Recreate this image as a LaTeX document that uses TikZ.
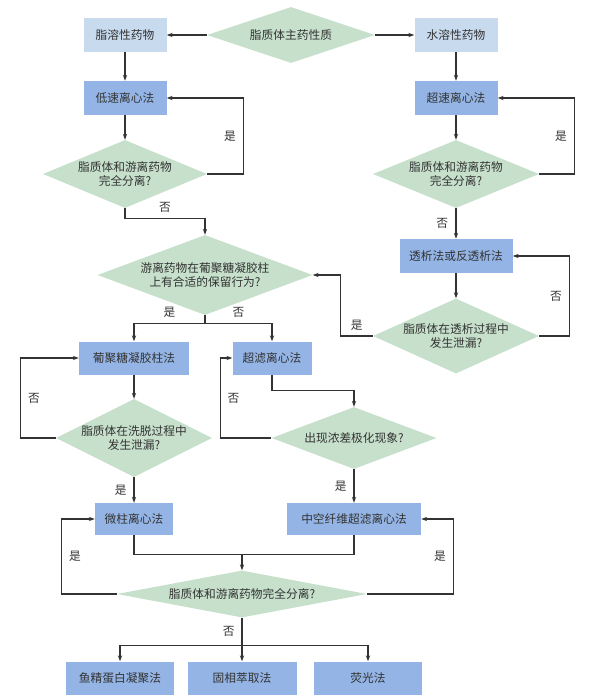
\documentclass[tikz,border=0pt]{standalone}
\usepackage{fontspec}
\usepackage{tikz}
\usetikzlibrary{shapes.geometric,arrows.meta,calc}
\newfontfamily\cjk{Noto Sans CJK SC}
\definecolor{paleblue}{HTML}{C8DAEE}
\definecolor{boxblue}{HTML}{93B4E4}
\definecolor{sage}{HTML}{C6E0CB}
\definecolor{ink}{HTML}{333333}
\newcommand\pxu{0.03cm}
\tikzset{
  base/.style={font=\cjk\fontsize{10}{11.5}\selectfont, text=ink, align=center},
  inbox/.style={base, rectangle, fill=paleblue, inner sep=0pt},
  stepbox/.style={base, rectangle, fill=boxblue, inner sep=0pt},
  query/.style={base, diamond, fill=sage, inner sep=-1.5pt},
  lbl/.style={font=\cjk\fontsize{10}{11.5}\selectfont, text=ink},
  link/.style={draw=ink, line width=0.9pt},
  flow/.style={link, ->}
}

\begin{document}
\begin{tikzpicture}[x=\pxu, y=-\pxu, >={Stealth[length=5pt,width=3.6pt]}]
    \useasboundingbox (0,0) rectangle (589,700);

    % Nodes
    \node[inbox, minimum width=83*\pxu, minimum height=34*\pxu] (fatsol) at (125,35) {脂溶性药物};
    \node[query, aspect=3, minimum width=168*\pxu, minimum height=56*\pxu] (drugtype) at (291,35) {脂质体主药性质};
    \node[inbox, minimum width=83*\pxu, minimum height=34*\pxu] (watsol) at (456,35) {水溶性药物};
    \node[stepbox, minimum width=83*\pxu, minimum height=34*\pxu] (lowspin) at (125,98) {低速离心法};
    \node[stepbox, minimum width=83*\pxu, minimum height=34*\pxu] (highspin) at (456,98) {超速离心法};
    \node[query, aspect=2.4, minimum width=164*\pxu, minimum height=68*\pxu] (sepL) at (125,174) {脂质体和游离药物\\完全分离?};
    \node[query, aspect=2.4, minimum width=166*\pxu, minimum height=68*\pxu] (sepR) at (456,174) {脂质体和游离药物\\完全分离?};
    \node[query, aspect=2.7, minimum width=215*\pxu, minimum height=80*\pxu] (retain) at (205,275) {游离药物在葡聚糖凝胶柱\\上有合适的保留行为?};
    \node[stepbox, minimum width=113*\pxu, minimum height=34*\pxu] (dialysis) at (456,256) {透析法或反透析法};
    \node[query, aspect=2.2, minimum width=166*\pxu, minimum height=75*\pxu] (leakdia) at (456,336) {脂质体在透析过程中\\发生泄漏?};
    \node[stepbox, minimum width=110*\pxu, minimum height=33*\pxu] (gelcol) at (134,358) {葡聚糖凝胶柱法};
    \node[stepbox, minimum width=79*\pxu, minimum height=33*\pxu] (ultraf) at (272,358) {超滤离心法};
    \node[query, aspect=2, minimum width=156*\pxu, minimum height=78*\pxu] (leakelu) at (134,438) {脂质体在洗脱过程中\\发生泄漏?};
    \node[query, aspect=2.66, minimum width=165*\pxu, minimum height=62*\pxu] (polar) at (354,438) {出现浓差极化现象?};
    \node[stepbox, minimum width=78*\pxu, minimum height=32*\pxu] (microcol) at (134,519) {微柱离心法};
    \node[stepbox, minimum width=134*\pxu, minimum height=32*\pxu] (hollow) at (354,519) {中空纤维超滤离心法};
    \node[query, aspect=5.3, minimum width=250*\pxu, minimum height=47*\pxu] (sepall) at (242,594) {脂质体和游离药物完全分离?};
    \node[stepbox, minimum width=108*\pxu, minimum height=33*\pxu] (protamine) at (120,678) {鱼精蛋白凝聚法};
    \node[stepbox, minimum width=109*\pxu, minimum height=33*\pxu] (spe) at (242,678) {固相萃取法};
    \node[stepbox, minimum width=108*\pxu, minimum height=33*\pxu] (fluor) at (368,678) {荧光法};

    % Arrows
    \draw[flow] (drugtype.west) -- (fatsol.east);
    \draw[flow] (drugtype.east) -- (watsol.west);
    \draw[flow] (fatsol) -- (lowspin);
    \draw[flow] (watsol) -- (highspin);
    \draw[flow] (lowspin) -- (sepL);
    \draw[flow] (highspin) -- (sepR);
    \draw[flow] (sepL.east) -- ++(36,0) |- node[lbl, pos=.25, left=2.5pt] {是} (lowspin.east);
    \draw[flow] (sepR.east) -- ++(35,0) |- node[lbl, pos=.25, left=2.5pt] {是} (highspin.east);
    \draw[flow] (sepL.south) -- ++(0,10) -| node[lbl, pos=.25, above=1pt] {否} (retain.north);
    \draw[flow] (sepR.south) -- node[lbl, left=3pt] {否} (dialysis.north);
    \draw[flow] (dialysis) -- (leakdia);
    \draw[flow] (leakdia.east) -- ++(30,0) |- node[lbl, pos=.25, left=2.5pt] {否} (dialysis.east);
    \draw[flow] (leakdia.west) -- node[lbl, above=1pt] {是} ++(-32,0) |- (retain.east);
    \draw[link] (retain.south) -- ++(0,8) coordinate (split);
    \draw[flow] (split) -| node[lbl, pos=.25, above=1pt] {是} (gelcol.north);
    \draw[flow] (split) -| node[lbl, pos=.25, above=1pt] {否} (ultraf.north);
    \draw[flow] (gelcol) -- (leakelu);
    \draw[flow] (leakelu.west) -- ++(-35,0) |- node[lbl, pos=.25, right=2.5pt] {否} (gelcol.west);
    \draw[flow] (ultraf.south) -- ++(0,16) -| (polar.north);
    \draw[flow] (polar.west) -- ++(-51,0) |- node[lbl, pos=.25, right=2.5pt] {否} (ultraf.west);
    \draw[flow] (leakelu) -- node[lbl, left=2.5pt] {是} (microcol);
    \draw[flow] (polar) -- node[lbl, left=2.5pt] {是} (hollow);
    \coordinate (merge) at ($(microcol.south -| sepall.north)+(0,19)$);
    \draw[link] (microcol.south) |- (merge) -| (hollow.south);
    \draw[flow] (merge) -- (sepall.north);
    \draw[flow] (sepall.west) -- ++(-55,0) |- node[lbl, pos=.25, right=2.5pt] {是} (microcol.west);
    \draw[flow] (sepall.east) -- ++(86,0) |- node[lbl, pos=.25, left=2.5pt] {是} (hollow.east);
    \draw[link] (sepall.south) -- node[lbl, left=2.5pt] {否} ++(0,28) coordinate (fan);
    \draw[flow] (fan) -| (protamine.north);
    \draw[flow] (fan) -- (spe.north);
    \draw[flow] (fan) -| (fluor.north);
\end{tikzpicture}
\end{document}
